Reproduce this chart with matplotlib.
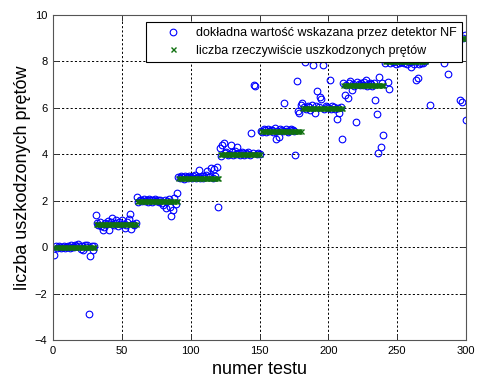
import numpy as np
import matplotlib
matplotlib.use("Agg")
import matplotlib.pyplot as plt

plt.rcParams['font.family'] = ['Liberation Sans', 'DejaVu Sans']

# number of test (1..300)
tests = list(range(1, 301))

# true number of damaged bars per block of tests
true_levels = [0, 1, 2, 3, 4, 5, 6, 7, 8, 9]
block_sizes = [30, 30, 30, 30, 30, 30, 30, 30, 30, 30]

# NF detector estimates, grouped by block
est_g0 = [-0.32, 0.03, -0.02, 0.05, 0.01, -0.04, 0.02, 0.06, -0.03, 0.00,
          0.04, -0.05, 0.08, 0.02, -0.01, 0.10, 0.05, 0.12, 0.03, -0.06,
          0.07, -0.14, 0.09, 0.02, 0.11, -2.88, -0.40, 0.06, -0.12, 0.04]
est_g1 = [1.38, 1.05, 0.95, 1.10, 0.92, 0.76, 0.88, 1.02, 0.98, 1.12,
          0.74, 1.08, 1.26, 0.96, 1.04, 1.15, 0.93, 1.07, 0.99, 1.18,
          1.00, 0.81, 0.97, 1.09, 1.20, 1.42, 0.80, 1.01, 0.94, 1.06]
est_g2 = [2.15, 1.95, 2.05, 2.02, 1.97, 2.08, 1.99, 2.04, 1.96, 2.06,
          2.01, 1.94, 2.03, 2.07, 1.98, 2.05, 1.93, 2.02, 1.90, 1.82,
          2.04, 1.70, 1.97, 2.06, 1.75, 1.33, 1.60, 2.10, 1.88, 2.32]
est_g3 = [3.04, 2.98, 3.05, 3.02, 2.95, 3.08, 3.01, 2.97, 3.06, 3.03,
          2.99, 3.07, 3.10, 2.96, 3.04, 3.34, 3.00, 3.08, 2.97, 3.05,
          3.12, 3.28, 3.02, 3.06, 3.42, 2.98, 3.36, 3.05, 3.47, 1.73]
est_g4 = [4.25, 3.92, 4.38, 4.47, 4.05, 4.12, 3.98, 4.02, 4.40, 4.08,
          3.96, 4.15, 4.03, 4.32, 4.06, 3.99, 4.10, 4.04, 3.95, 4.07,
          4.01, 4.09, 3.97, 4.92, 4.05, 6.98, 6.95, 4.02, 4.06, 4.00]
est_g5 = [5.02, 4.97, 5.08, 5.05, 4.94, 5.10, 4.99, 5.06, 5.03, 4.96,
          5.12, 4.66, 5.01, 4.75, 5.07, 5.04, 5.00, 6.22, 5.09, 5.02,
          4.95, 5.06, 5.11, 5.03, 5.00, 3.95, 7.16, 5.86, 5.77, 6.13]
est_g6 = [6.20, 6.05, 7.98, 5.96, 6.08, 6.02, 5.92, 6.11, 7.83, 5.78,
          6.06, 6.74, 6.05, 6.48, 6.40, 7.86, 5.97, 6.10, 6.03, 6.00,
          7.20, 5.94, 6.07, 6.02, 5.95, 5.52, 5.98, 5.76, 6.04, 4.64]
est_g7 = [7.05, 6.56, 6.98, 6.42, 7.08, 7.16, 6.78, 7.02, 6.95, 5.40,
          7.10, 7.04, 6.97, 7.06, 7.00, 7.12, 7.20, 6.96, 7.03, 7.09,
          7.01, 6.94, 7.07, 6.34, 5.72, 4.04, 7.35, 4.33, 7.05, 4.84]
est_g8 = [7.95, 8.05, 7.13, 6.80, 7.92, 8.10, 7.97, 8.03, 7.90, 8.15,
          7.94, 8.08, 7.98, 8.02, 7.93, 8.06, 7.91, 8.12, 7.96, 7.78,
          8.04, 7.88, 8.00, 7.20, 7.28, 7.87, 7.95, 8.09, 7.92, 8.01]
est_g9 = [9.05, 8.95, 9.10, 6.13, 9.02, 8.98, 9.08, 9.00, 8.93, 9.06,
          8.97, 9.04, 9.12, 7.93, 8.96, 9.03, 7.47, 9.07, 8.99, 9.05,
          8.94, 9.10, 9.01, 8.97, 9.06, 6.34, 6.27, 9.02, 9.15, 5.48]

estimates = (est_g0 + est_g1 + est_g2 + est_g3 + est_g4 +
             est_g5 + est_g6 + est_g7 + est_g8 + est_g9)
true_counts = np.repeat(true_levels, block_sizes)

x_ticks = [0, 50, 100, 150, 200, 250, 300]
y_ticks = [-4, -2, 0, 2, 4, 6, 8, 10]

label_est = 'dokładna wartość wskazana przez detektor NF'
label_true = 'liczba rzeczywiście uszkodzonych prętów'

fig = plt.figure(figsize=(4.78, 3.79), dpi=100)
ax = fig.add_axes([53/478, 1-340/379, 413/478, 325/379])

ax.plot(tests, estimates, linestyle='none', marker='o', markersize=4.8,
        markerfacecolor='none', markeredgecolor='#0000ff', markeredgewidth=0.8,
        label=label_est)
ax.plot(tests, true_counts, linestyle='none', marker='x', markersize=3.6,
        color='#107010', markeredgewidth=1.0, label=label_true)

ax.set_xlim(0, 300)
ax.set_ylim(-4, 10)
ax.set_xticks(x_ticks)
ax.set_yticks(y_ticks)
ax.tick_params(direction='in', length=4, width=0.7, labelsize=8, colors='#333333',
               labelcolor='black', pad=4, top=True, right=True)
for s in ax.spines.values():
    s.set_color('#555555')
    s.set_linewidth(0.8)
ax.grid(True, color='black', linestyle=(0, (2.2, 2.2)), linewidth=0.7)
ax.set_axisbelow(True)

ax.set_xlabel('numer testu', fontsize=13, labelpad=4)
ax.set_ylabel('liczba uszkodzonych prętów', fontsize=13, labelpad=3)

leg = ax.legend(loc='upper right', bbox_to_anchor=(409/413, 318/325),
                borderaxespad=0, fontsize=9, frameon=True, fancybox=False,
                framealpha=1, edgecolor='black', handlelength=3.4,
                handletextpad=0.2, borderpad=0.4, labelspacing=0.45, numpoints=1)
leg.get_frame().set_linewidth(0.8)

fig.savefig('out.png', dpi=100)
